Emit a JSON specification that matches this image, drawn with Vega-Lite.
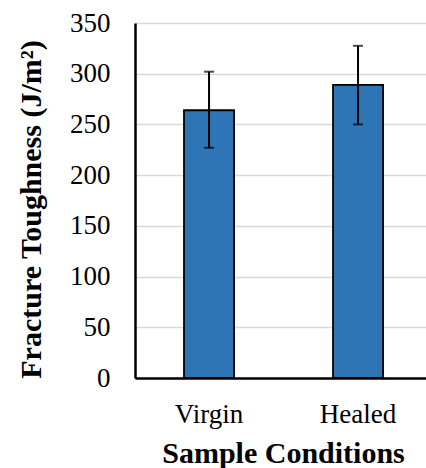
{
  "$schema": "https://vega.github.io/schema/vega-lite/v6.json",
  "width": 291,
  "height": 355,
  "autosize": {"type": "none"},
  "padding": {"left": 135, "top": 23, "right": 0, "bottom": 90},
  "background": "white",
  "config": {
    "view": {"stroke": null},
    "font": "Liberation Serif, Times New Roman, serif"
  },
  "data": {
    "values": [
      {"condition": "Virgin", "toughness": 264, "lo": 227, "hi": 302},
      {"condition": "Healed", "toughness": 289, "lo": 250, "hi": 327.5}
    ]
  },
  "encoding": {
    "x": {
      "field": "condition",
      "type": "nominal",
      "sort": ["Virgin", "Healed"],
      "scale": {"paddingInner": 0.664, "paddingOuter": 0.3085, "align": 0.533},
      "axis": {
        "title": "Sample Conditions",
        "titleFont": "Liberation Serif, Times New Roman, serif",
        "titleFontSize": 30,
        "titleFontWeight": "bold",
        "titleColor": "#000",
        "titleX": 148,
        "titleY": 84,
        "titleBaseline": "alphabetic",
        "labelFont": "Liberation Serif, Times New Roman, serif",
        "labelFontSize": 27,
        "labelColor": "#000",
        "labelAngle": 0,
        "labelBaseline": "alphabetic",
        "labelPadding": 44,
        "ticks": false,
        "tickSize": 0,
        "domainColor": "#000",
        "domainWidth": 2.5,
        "grid": false,
        "zindex": 1
      }
    }
  },
  "layer": [
    {
      "mark": {"type": "bar", "fill": "#2e75b6", "stroke": "#000", "strokeWidth": 1.8},
      "encoding": {
        "y": {
          "field": "toughness",
          "type": "quantitative",
          "scale": {"domain": [0, 350], "nice": false},
          "axis": {
            "title": "Fracture Toughness (J/m²)",
            "titleFont": "Liberation Serif, Times New Roman, serif",
            "titleFontSize": 30,
            "titleFontWeight": "bold",
            "titleColor": "#000",
            "titleAngle": -90,
            "titleX": -95,
            "titleY": 186,
            "titleAlign": "center",
            "titleBaseline": "alphabetic",
            "values": [0, 50, 100, 150, 200, 250, 300, 350],
            "labelFont": "Liberation Serif, Times New Roman, serif",
            "labelFontSize": 27,
            "labelColor": "#000",
            "labelPadding": 25,
            "ticks": false,
            "tickSize": 0,
            "domainColor": "#000",
            "domainWidth": 2.5,
            "grid": true,
            "gridColor": "#d9d9d9",
            "gridWidth": 1.5
          }
        }
      }
    },
    {
      "mark": {"type": "rule", "color": "#000", "strokeWidth": 2},
      "encoding": {
        "y": {"field": "lo", "type": "quantitative"},
        "y2": {"field": "hi"}
      }
    },
    {
      "mark": {"type": "tick", "color": "#000", "size": 10, "thickness": 2},
      "encoding": {"y": {"field": "lo", "type": "quantitative"}}
    },
    {
      "mark": {"type": "tick", "color": "#000", "size": 10, "thickness": 2},
      "encoding": {"y": {"field": "hi", "type": "quantitative"}}
    }
  ]
}
